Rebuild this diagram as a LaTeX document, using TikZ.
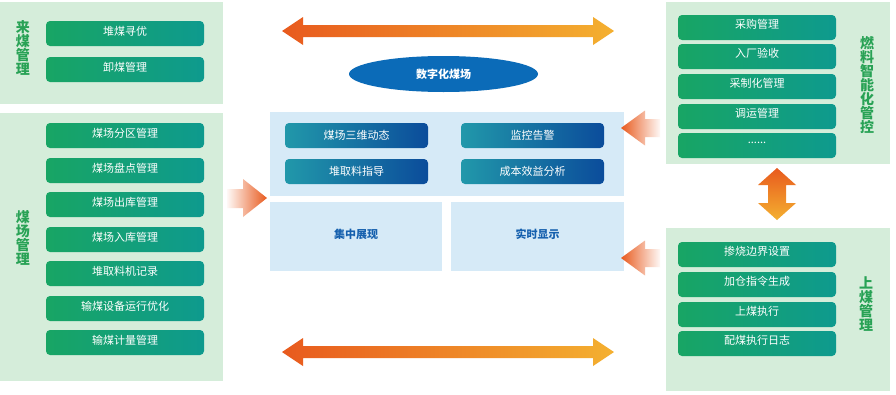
\documentclass[tikz,border=0pt]{standalone}
\usepackage{fontspec}
\setmainfont{Noto Sans CJK SC}
\usetikzlibrary{shapes.geometric}
\definecolor{panelG}{RGB}{213,237,218}
\definecolor{btnGL}{RGB}{24,165,100}
\definecolor{btnGR}{RGB}{14,154,142}
\definecolor{labelG}{RGB}{40,162,85}
\definecolor{panelB}{RGB}{214,234,247}
\definecolor{bbtnL}{RGB}{33,152,170}
\definecolor{bbtnR}{RGB}{11,76,155}
\definecolor{ellC}{RGB}{11,107,184}
\definecolor{blueT}{RGB}{21,96,174}
\definecolor{arrA}{RGB}{232,90,30}
\definecolor{arrB}{RGB}{244,176,48}
\tikzset{
  gpanel/.style={fill=panelG, draw=none},
  bpanel/.style={fill=panelB, draw=none},
  gbtn/.style={rectangle, rounded corners=4pt, minimum width=158pt, minimum height=25pt,
    left color=btnGL, right color=btnGR, draw=none, text=white, inner sep=0pt,
    font=\fontsize{11}{13}\selectfont},
  bbtn/.style={rectangle, rounded corners=4pt, minimum width=143pt, minimum height=25pt,
    left color=bbtnL, right color=bbtnR, draw=none, text=white, inner sep=0pt,
    font=\fontsize{11}{13}\selectfont},
  btxt/.style={text=white, font=\fontsize{11}{13}\selectfont, inner sep=0pt},
  vlabel/.style={text=labelG, align=center, inner sep=0pt, font=\bfseries\fontsize{14}{14}\selectfont},
  bigarrow/.style={left color=arrA, right color=arrB, draw=none},
}
\begin{document}
\begin{tikzpicture}[x=1pt,y=-1pt]
\useasboundingbox (0,0) rectangle (896,394);
\fill[white] (0,0) rectangle (896,394);

% panels
\path[gpanel] (0,2) rectangle (223,104);
\path[gpanel] (0,113) rectangle (223,381);
\path[gpanel] (666,2) rectangle (890,164);
\path[gpanel] (666,228) rectangle (890,391);
\path[bpanel] (270,112) rectangle (624,196);
\path[bpanel] (270,202) rectangle (442,271);
\path[bpanel] (451,202) rectangle (624,271);

% labels
\node[vlabel] (l1) at (23,47.5) {来\\煤\\管\\理};
\node[vlabel] (l2) at (23,238) {煤\\场\\管\\理};
\node[vlabel] (l3) at (867,85) {燃\\料\\智\\能\\化\\管\\控};
\node[vlabel] (l4) at (866,304) {上\\煤\\管\\理};

% left buttons
\foreach \y/\t/\n in {33.5/堆煤寻优/a1, 69.5/卸煤管理/a2}{
  \node[gbtn] (\n) at (125,\y) {};
  \node[btxt] at ([yshift=2pt]\n.center) {\t};
}
\foreach \y/\t/\n in {135.5/煤场分区管理/b1, 170.5/煤场盘点管理/b2, 204.5/煤场出库管理/b3,
  239.5/煤场入库管理/b4, 273.5/堆取料机记录/b5, 308.5/输煤设备运行优化/b6, 342.5/输煤计量管理/b7}{
  \node[gbtn] (\n) at (125,\y) {};
  \node[btxt] at ([yshift=2pt]\n.center) {\t};
}
% right buttons
\foreach \y/\t/\n in {27.5/采购管理/c1, 56.5/入厂验收/c2, 86.5/采制化管理/c3, 116.5/调运管理/c4}{
  \node[gbtn] (\n) at (757,\y) {};
  \node[btxt] at ([yshift=3pt]\n.center) {\t};
}
\node[gbtn] (c5) at (757,145.5) {};
\node[btxt] at ([yshift=3pt]c5.center) {......};
\foreach \y/\t/\n in {254.5/掺烧边界设置/d1, 284.5/加仓指令生成/d2, 314.5/上煤执行/d3, 343.5/配煤执行日志/d4}{
  \node[gbtn] (\n) at (757,\y) {};
  \node[btxt] at ([yshift=3pt]\n.center) {\t};
}

% centre buttons
\node[bbtn] (e1) at (356.5,135.5) {};
\node[btxt] at (e1.center) {煤场三维动态};
\node[bbtn] (e2) at (532.5,135.5) {};
\node[btxt] at (e2.center) {监控告警};
\node[bbtn] (e3) at (356.5,171.5) {};
\node[btxt] at (e3.center) {堆取料指导};
\node[bbtn] (e4) at (532.5,171.5) {};
\node[btxt] at (e4.center) {成本效益分析};

\node[text=blueT, font=\bfseries\fontsize{11}{13}\selectfont] (f1) at (356,234) {集中展现};
\node[text=blueT, font=\bfseries\fontsize{11}{13}\selectfont] (f2) at (537.5,234) {实时显示};

% ellipse
\node[ellipse, fill=ellC, draw=none, minimum width=189pt, minimum height=36pt, inner sep=0pt,
  text=white, font=\bfseries\fontsize{11}{13}\selectfont] (dc) at (443.5,74) {数字化煤场};

% big horizontal arrows
\shade[bigarrow] (282,31) -- (303,17) -- (303,25) -- (593,25) -- (593,17) -- (614,31)
  -- (593,45) -- (593,37) -- (303,37) -- (303,45) -- cycle;
\shade[bigarrow] (282,352) -- (303,338) -- (303,346) -- (593,346) -- (593,338) -- (614,352)
  -- (593,366) -- (593,358) -- (303,358) -- (303,366) -- cycle;

% vertical double arrow
\shade[top color=arrA, bottom color=arrB, draw=none] (777,168) -- (796,185) -- (786,185) -- (786,203)
  -- (796,203) -- (777,220) -- (758,203) -- (768,203) -- (768,185) -- (758,185) -- cycle;

% side arrows
\shade[left color=arrA!4, right color=arrA, draw=none] (227,189) -- (243,189) -- (243,179) -- (267,198)
  -- (243,217) -- (243,208) -- (227,208) -- cycle;
\shade[left color=arrA, right color=arrA!4, draw=none] (621,128) -- (645,110.5) -- (645,119) -- (660,119)
  -- (660,137) -- (645,137) -- (645,145.5) -- cycle;
\shade[left color=arrA, right color=arrA!4, draw=none] (621,258) -- (645,240.5) -- (645,249) -- (660,249)
  -- (660,267) -- (645,267) -- (645,275.5) -- cycle;
\end{tikzpicture}
\end{document}
